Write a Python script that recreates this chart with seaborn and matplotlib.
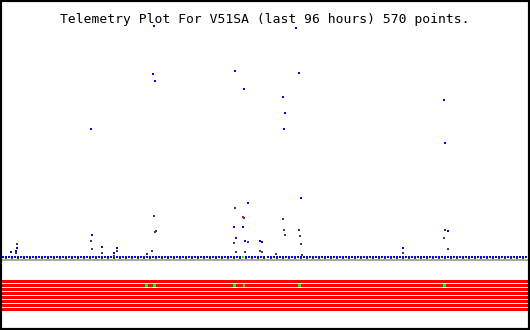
import numpy as np
import pandas as pd
import matplotlib
matplotlib.use("Agg")
import matplotlib.pyplot as plt
import seaborn as sns

sns.set_style("white")
plt.rcParams['font.family'] = ['DejaVu Sans Mono', 'DejaVu Sans']

TITLE = "Telemetry Plot For V51SA (last 96 hours) 570 points."
HOURS = 96

# regular baseline samples (time grid in hours) and their values
base_t = np.linspace(0.2, 95.8, 175)
base_v = [1] * 175
base_gray_t = base_t[1::2]
base_gray_v = [-1] * len(base_gray_t)

# blue channel spikes: time (hours) and value
blue_t = [27.79, 53.76, 27.67, 27.98, 42.66, 44.31, 51.44, 51.80, 51.62, 54.36,
          54.73, 45.04, 42.48, 44.12, 42.84, 44.49, 47.23, 47.60, 16.33, 16.51,
          18.34, 21.08, 20.53, 2.80, 2.61, 1.70, 73.38, 81.61, 80.88, 81.06]
blue_v = [232, 230, 184, 177, 187, 169, 161, 145, 129, 185,
          60, 55, 31, 31, 20, 17, 17, 16, 129, 23,
          11, 10, 5, 10, 7, 6, 10, 27, 158, 115]

# dark gray channel spikes
gray_t = [27.85, 28.22, 28.03, 2.80, 2.61, 16.33, 16.51, 18.34, 21.08, 20.53,
          27.48, 26.57, 42.66, 44.31, 51.44, 51.62, 51.80, 54.36, 54.55, 54.73,
          42.48, 42.84, 44.49, 45.04, 47.23, 47.60, 50.16, 54.91, 73.38, 81.06,
          80.88, 81.61]
gray_v = [42, 27, 26, 14, 5, 17, 9, 5, 7, 2,
          7, 4, 50, 40, 39, 28, 23, 28, 22, 14,
          15, 6, 6, 16, 7, 6, 4, 3, 5, 28,
          20, 9]

red_t = [44.12]
red_v = [41]
green_t = [44.12]
green_v = [1]

# status flags (8 rows), green events on row 2
status_rows = 8
flag_t = [26.42, 27.88, 42.52, 44.25, 54.40, 80.91]
flag_row = [1, 1, 1, 1, 1, 1]

fig = plt.figure(figsize=(5.3, 3.3), dpi=100)
ax = fig.add_axes([0, 0, 1, 1])
ax.set_xlim(-0.366, 96.549)
ax.set_ylim(-72, 258)

# gray baseline
ax.axhline(-2.3, color="#a8a8a8", lw=1.5)

# status band
for r in range(status_rows):
    top = -22 - 4 * r
    ax.barh(top - 1.5, HOURS + 0.9, height=3, left=-0.3, color="#ff0000",
            edgecolor="none", antialiased=False, zorder=2)
for t, r in zip(flag_t, flag_row):
    top = -22 - 4 * r
    ax.barh(top - 1.5, 0.4, height=3, left=t - 0.2, color="#00ff00",
            edgecolor="none", antialiased=False, zorder=3)

rect = [(-1, -2), (1, -2), (1, 2), (-1, 2), (-1, -2)]
dot = [(-1, -1), (1, -1), (1, 1), (-1, 1), (-1, -1)]

sns.scatterplot(x=base_gray_t, y=base_gray_v, marker=dot, s=2, color="#404040",
                linewidth=0, ax=ax, antialiased=False)
sns.scatterplot(x=base_t, y=base_v, marker=rect, s=4, color="#0000ff",
                linewidth=0, ax=ax, antialiased=False)
sns.scatterplot(x=gray_t, y=gray_v, marker=rect, s=4, color="#404040",
                linewidth=0, ax=ax, antialiased=False)
sns.scatterplot(x=blue_t, y=blue_v, marker=rect, s=4, color="#0000ff",
                linewidth=0, ax=ax, antialiased=False)
sns.scatterplot(x=red_t, y=red_v, marker=rect, s=4, color="#ff0000",
                linewidth=0, ax=ax, antialiased=False)
sns.scatterplot(x=green_t, y=green_v, marker=rect, s=4, color="#00ff00",
                linewidth=0, ax=ax, antialiased=False)

ax.set_xticks([])
ax.set_yticks([])
ax.set_xlabel("")
ax.set_ylabel("")
for s in ax.spines.values():
    s.set_visible(True)
    s.set_color("black")
    s.set_linewidth(3)

fig.text(0.5, 1 - 23 / 330, TITLE, ha="center", va="baseline", fontsize=9.4,
         color="black")

fig.savefig("out.png", dpi=100)
